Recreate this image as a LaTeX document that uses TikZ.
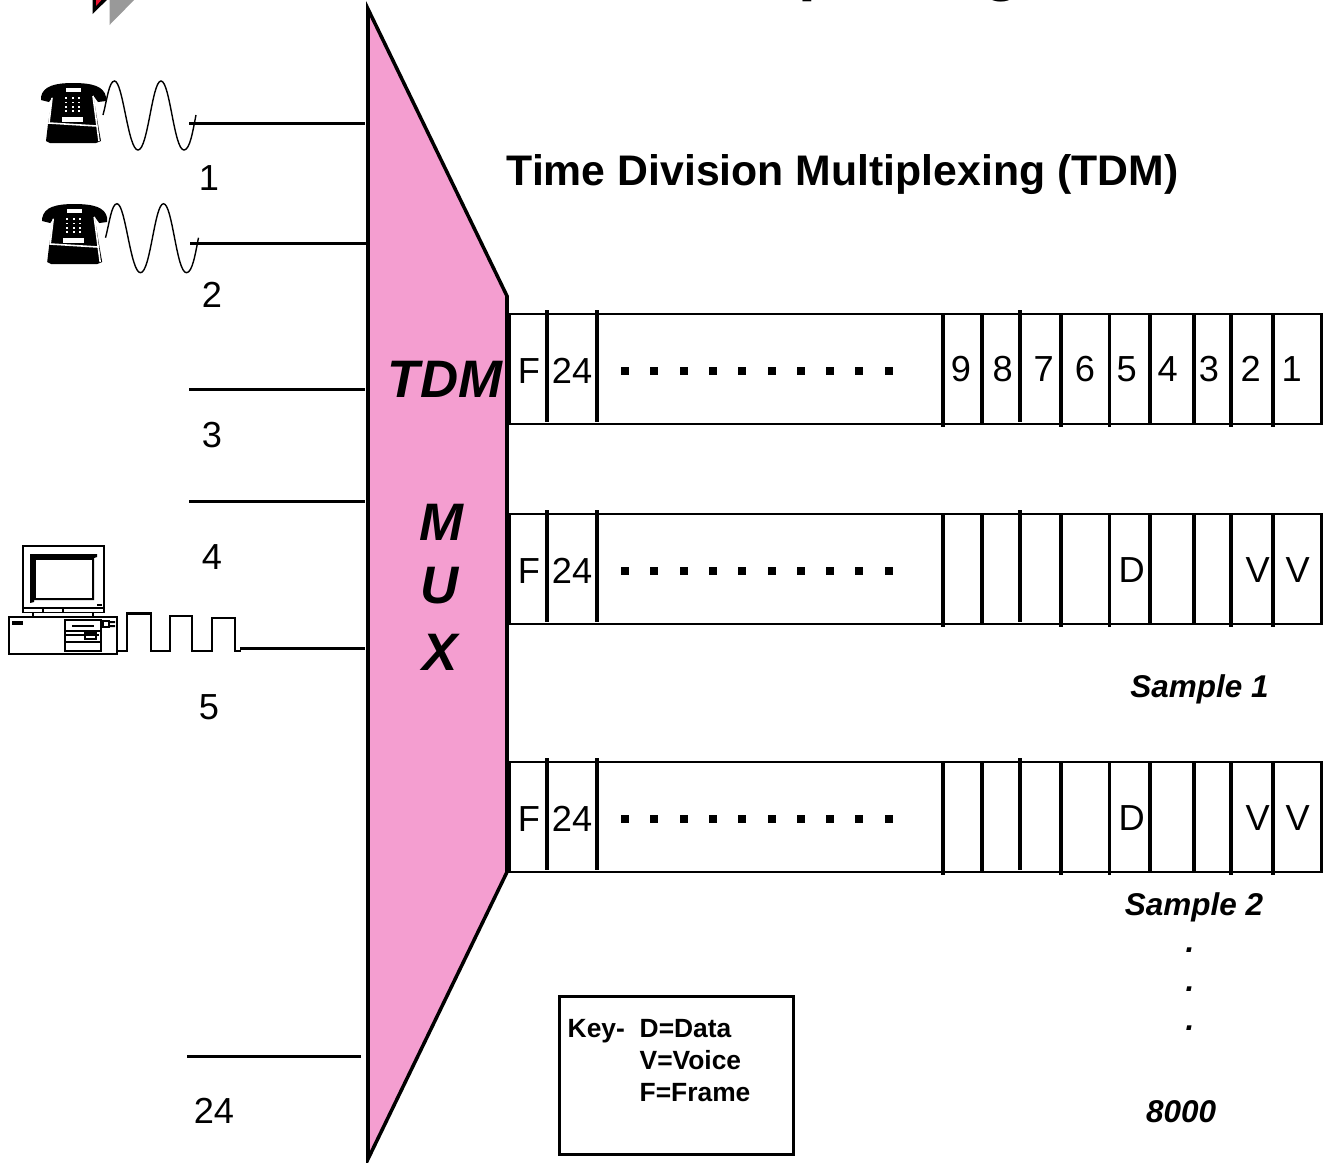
\documentclass[tikz,border=0pt]{standalone}
\usepackage{fontspec}
\setmainfont{Liberation Sans}
\usetikzlibrary{positioning}
\definecolor{Mux_pink}{RGB}{244,158,208}
\definecolor{Logo_red}{RGB}{237,20,50}
\definecolor{Logo_gray}{RGB}{153,153,153}
\tikzset{
    txt/.style={inner sep=0pt, font=\fontsize{10.3}{12}\selectfont},
    muxtxt/.style={inner sep=0pt, font=\fontsize{15}{16}\selectfont\bfseries\itshape},
    smp/.style={inner sep=0pt, font=\fontsize{8.95}{10}\selectfont\bfseries\itshape},
    keytxt/.style={inner sep=0pt, anchor=base west, font=\fontsize{7.5}{9}\selectfont\bfseries},
    line/.style={line width=0.85pt},
    slot/.style={line width=0.95pt},
    frm/.style={draw, line width=0.8pt, minimum width=8.12cm, minimum height=1.1cm, inner sep=0pt},
}
\begin{document}
\begin{tikzpicture}[x=0.01cm, y=-0.01cm]
\useasboundingbox (0,0) rectangle (1333,1162);
% Logo und Titel
\begin{scope}
\clip (0,0) rectangle (1333,1162);
\fill[Logo_gray] (109.5,25) -- (109.5,-5) -- (139,-5) -- cycle;
\fill[black] (92.5,14) -- (92.5,-5) -- (112,-5) -- cycle;
\fill[Logo_red] (96,6) -- (96,-5) -- (106,-5) -- cycle;
\node[anchor=base west, inner sep=0pt, font=\fontsize{18.2}{20}\selectfont\bfseries] (title) at (648,-11.5) {Multiplexing};
\end{scope}
% Multiplexer
\draw[line width=1pt, fill=Mux_pink, line join=miter] (368,9) -- (507,296) -- (507,872) -- (368,1159) -- cycle;
\node[muxtxt] (tdm) at (445,379) {TDM};
\node[muxtxt] (m) at (441,522) {M};
\node[muxtxt] (u) at (440,586) {U};
\node[muxtxt] (x) at (440,652) {X};
\node[inner sep=0pt, font=\fontsize{12.16}{14}\selectfont\bfseries] (head) at (842.5,175) {Time Division Multiplexing (TDM)};
% Eingaenge
\foreach \n/\y/\xa/\xb/\ty/\tx/\lab in {a/123.3/189/365/178/209/1, b/243.3/190/367/295/212/2, c/389/189/365/435/212/3, d/501/189/365/557/212/4, e/648.3/240/365/707/209/5, f/1056/187/361/1111/214/24} {
    \coordinate (in\n) at (\xa,\y);
    \coordinate (mux\n) at (\xb,\y);
    \draw[line] (in\n) -- (mux\n);
    \node[txt] (lab\n) at (\tx,\ty) {\lab};
}
% Telefone
\foreach \dx/\dy in {0/0, 1.2/121} {
\begin{scope}[shift={(\dx,\dy)}]
    \fill[black] (41,97) .. controls (43,86) and (55,83) .. (73,83) .. controls (92,83) and (104,86) .. (106,97) -- (106,101) -- (98,102) -- (93,95) -- (54,95) -- (49,102) -- (41,100) -- cycle;
    \fill[black] (53,94) -- (93,94) -- (98,124) -- (101,141) -- (96,143) -- (50,143) -- (46,141) -- (48,124) -- cycle;
    \fill[white] (66,88) rectangle (81,92);
    \fill[white] (62,117) rectangle (83,122);
    \draw[white, line width=0.45pt] (52,98) -- (49,123) -- (97,126) -- (93,96);
    \draw[white, line width=0.45pt] (97,126) -- (99,141);
    \foreach \kx in {66,73,79} {
        \foreach \ky in {98,102.5,107,111} {
            \fill[white] (\kx-1.2,\ky-0.9) rectangle (\kx+1.2,\ky+0.9);
        }
    }
\end{scope}
}
% Wellen
\foreach \dx/\dy in {0/0, 2.5/122.7} {
\begin{scope}[shift={(\dx,\dy)}]
    \draw[line width=0.4pt] (103,115) .. controls (107,100) and (109,81) .. (114.5,81) .. controls (123,81) and (128,150) .. (138,150) .. controls (148,150) and (152,81) .. (161,81) .. controls (170,81) and (174,150) .. (184,150) .. controls (190,150) and (193,130) .. (196,115);
\end{scope}
}
% Rechner
\draw[line width=0.45pt, fill=white] (23,546) rectangle (104,612.5);
\fill[black] (30,554) -- (97,554) -- (97,557) -- (94,558) -- (94,600) -- (34,600) -- (34,602) -- (30,603) -- cycle;
\fill[white] (36,560) rectangle (92,598);
\fill[black] (97,604) rectangle (102,606);
\draw[line width=0.45pt] (23,608) -- (104,608) (43,608) -- (43,612.5) (63,608) -- (63,612.5);
\draw[line width=0.45pt] (33,612.5) -- (33,617) (93,612.5) -- (93,617);
\draw[line width=0.55pt] (9,617) rectangle (117,654);
\fill[black] (12,621) rectangle (23,625);
\draw[line width=0.45pt] (65,620) rectangle (101,651);
\draw[line width=0.45pt] (65,631) -- (101,631) (65,635) -- (99,635) (65,642) -- (101,642) (85,633) rectangle (96,639);
\fill[black] (72,625) rectangle (94,627);
\draw[line width=0.45pt] (103,621) rectangle (109,627);
\fill[black] (110,621) rectangle (115,623) (110,625) rectangle (115,627);
\draw[line width=0.75pt] (117,651) -- (127,651) -- (127,613.5) -- (151,613.5) -- (151,651) -- (170,651) -- (170,616) -- (192,616) -- (192,651) -- (212,651) -- (212,618) -- (235,618) -- (235,651) -- (241,651);
% Rahmen
\foreach \n/\y in {A/369, B/569, C/817} {
    \node[frm, anchor=west] (frame\n) at (508,\y) {};
    \node[txt] (f\n) at (529,\y+2) {F};
    \node[txt] (n\n) at (572,\y+2) {24};
    \foreach \sx in {547,597,1020} {
        \draw[slot] (\sx,\y-59) -- (\sx,\y+53);
    }
    \foreach \sx in {943,1061,1109.5,1231,1273} {
        \draw[slot] (\sx,\y-55) -- (\sx,\y+58);
    }
    \foreach \sx in {982,1150,1194} {
        \draw[slot] (\sx,\y-55) -- (\sx,\y+55);
    }
    \foreach \k in {0,...,9} {
        \fill[black] (625+\k*29.3-4,\y-2) rectangle (625+\k*29.3+4,\y+6);
    }
}
\foreach \l/\sx in {9/961,8/1002.7,7/1043.7,6/1085,5/1126.7,4/1167.7,3/1209,2/1250.7,1/1291.7} {
    \node[txt] (slot\l) at (\sx,369) {\l};
}
\foreach \n/\y in {B/570, C/818} {
    \node[txt] (d\n) at (1131.7,\y) {D};
    \node[txt] (v\n) at (1257.7,\y) {V};
    \node[txt] (w\n) at (1297.7,\y) {V};
}
% Beschriftung
\node[smp] (sampleA) at (1199.5,689) {Sample 1};
\node[smp] (sampleB) at (1194,907) {Sample 2};
\node[smp] (dotA) at (1190,950) {.};
\node[smp] (dotB) at (1190,989) {.};
\node[smp] (dotC) at (1190,1028) {.};
\node[smp] (last) at (1181,1112) {8000};
% Legende
\node[draw, line width=0.85pt, minimum width=2.33cm, minimum height=1.575cm, inner sep=0pt] (keybox) at (676.5,1075.5) {};
\node[keytxt] (keyA) at (567,1037) {Key-};
\node[keytxt] (keyB) at (639,1037) {D=Data};
\node[keytxt] (keyC) at (639,1069) {V=Voice};
\node[keytxt] (keyD) at (639,1101) {F=Frame};
\end{tikzpicture}
\end{document}
